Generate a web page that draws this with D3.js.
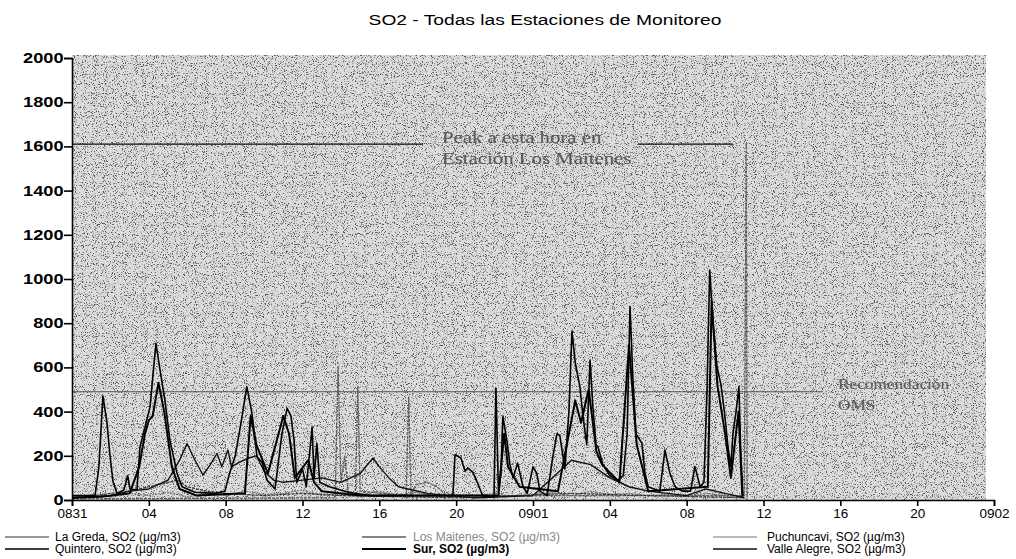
<!DOCTYPE html>
<html><head><meta charset="utf-8">
<script src="https://cdn.jsdelivr.net/npm/d3@7/dist/d3.min.js"></script>
<style>
html,body{margin:0;padding:0;background:#fff;}
svg{display:block;font-family:"Liberation Sans",Arial,sans-serif;}
</style></head>
<body>
<svg id="chart" width="1016" height="559"></svg>
<script>
// ---- data (hours since 08/31 00:00, SO2 µg/m3) ----
const xTickHours = [0,4,8,12,16,20,24,28,32,36,40,44,48];
const xTickLabels = ["0831","04","08","12","16","20","0901","04","08","12","16","20","0902"];
const yTicks = [0,200,400,600,800,1000,1200,1400,1600,1800,2000];

const quintero = [[0,20],[1.2,20],[1.4,150],[1.61,470],[1.82,350],[1.98,200],[2.13,85],[2.34,30],[2.7,45],[2.9,110],[3.02,50],[3.38,45],[3.54,240],[3.8,330],[4.06,420],[4.37,709],[4.58,590],[4.84,450],[5.1,270],[5.47,120],[5.73,60],[6.4,35],[7.44,30],[7.96,40],[8.2,120],[8.5,200],[8.8,350],[9.1,513],[9.37,392],[9.63,196],[9.9,170],[10.15,90],[10.57,50],[10.93,300],[11.2,415],[11.4,380],[11.56,271],[11.7,80],[12.0,140],[12.2,60],[12.5,330],[12.6,100],[12.75,256],[12.9,80],[13.4,60],[14.2,40],[14.7,30],[15.5,20],[19.83,20],[19.94,205],[20.25,190],[20.46,130],[20.6,145],[20.87,125],[21.1,80],[21.4,15],[21.97,15],[22.07,505],[22.2,40],[22.33,120],[22.43,377],[22.64,270],[22.8,160],[22.96,100],[23.2,167],[23.48,60],[23.7,30],[24.0,150],[24.2,120],[24.36,40],[24.73,20],[25.04,200],[25.25,300],[25.4,290],[25.66,140],[25.87,400],[26.03,765],[26.2,620],[26.44,513],[26.6,380],[26.8,250],[26.97,633],[27.12,420],[27.28,250],[27.38,241],[27.64,160],[28.0,110],[28.42,90],[28.7,110],[28.9,300],[29.05,875],[29.2,550],[29.36,300],[29.67,256],[29.83,120],[30.0,60],[30.6,40],[30.87,226],[31.13,120],[31.4,60],[31.76,40],[32.2,40],[32.43,151],[32.7,60],[32.9,80],[33.06,500],[33.2,1040],[33.37,800],[33.58,603],[33.79,520],[33.99,380],[34.15,241],[34.3,151],[34.41,300],[34.57,400],[34.72,513],[34.82,200],[34.93,20]];

const sur = [[0,10],[1.5,15],[3.0,30],[3.5,150],[3.8,300],[4.0,360],[4.2,380],[4.5,530],[4.8,400],[5.2,150],[5.6,50],[6.5,20],[9.0,30],[9.3,380],[9.6,250],[10.2,120],[11.0,380],[11.3,300],[11.6,100],[12.3,180],[12.6,80],[13.0,40],[15,20],[22.2,20],[22.5,300],[22.7,150],[23.3,60],[25.3,40],[26.2,450],[26.5,350],[26.9,500],[27.3,220],[27.6,160],[28.5,80],[29.0,700],[29.4,250],[30.0,40],[33.1,60],[33.3,900],[33.6,520],[34.0,300],[34.3,100],[34.7,400],[34.9,10]];

const valleAlegre = [[0,10],[2,20],[3,40],[4,50],[5,90],[5.6,180],[5.99,256],[6.4,180],[6.82,113],[7.2,160],[7.55,211],[7.8,150],[8.12,226],[8.3,150],[8.7,170],[9.2,190],[9.6,200],[10,130],[10.5,90],[11,80],[12,90],[13,100],[14,80],[15,120],[15.67,190],[16,150],[16.5,100],[17,60],[17.5,50],[18.5,30],[19.5,20],[21,10],[24,20],[25,100],[26,180],[27,160],[28,100],[29,60],[30,40],[31,30],[32,20],[33,50],[34,30],[35,10]];

const laGreda = [[0,5],[2,30],[3,40],[4,60],[5,80],[5.5,90],[6,60],[7,40],[8,30],[10,20],[12,30],[14,20],[20,10],[26,30],[30,20],[35,10]];

const puchuncavi = [[0,10],[1,25],[2,15],[3,30],[4,20],[5,35],[6,15],[7,30],[8,20],[9,40],[10,25],[11,30],[12,45],[13,20],[14,30],[15,25],[16,40],[17,20],[18,35],[19,15],[20,25],[21,20],[22,30],[23,15],[24,25],[25,35],[26,20],[27,40],[28,25],[29,30],[30,20],[31,25],[32,15],[33,30],[34,20],[35,10]];

const losMaitenes = [[0,5],[13.7,10],[13.85,603],[14.0,80],[14.2,200],[14.4,20],[14.75,20],[14.88,513],[15.0,40],[17.4,20],[17.53,467],[17.65,20],[17.9,70],[18.5,80],[19,60],[19.5,20],[35.0,20],[35.1,1620],[35.15,0]];

const peakValue = 1610;
const omsValue = 490;

// ---- drawing ----
const svg = d3.select("#chart");
const x = d3.scaleLinear().domain([0,48]).range([72,994]);
const y = d3.scaleLinear().domain([0,2000]).range([500,58]);

// speckled scan-like background
const defs = svg.append("defs");
const f = defs.append("filter").attr("id","noise").attr("x",0).attr("y",0).attr("width","100%").attr("height","100%");
f.append("feTurbulence").attr("type","fractalNoise").attr("baseFrequency","0.9").attr("numOctaves","2").attr("seed","7").attr("result","t");
f.append("feColorMatrix").attr("in","t").attr("type","matrix")
  .attr("values","0 0 0 0 0  0 0 0 0 0  0 0 0 0 0  7 0 0 0 -3.9");
svg.append("rect").attr("x",x(0)).attr("y",55).attr("width",x(48)-x(0)-8).attr("height",y(0)-55)
  .attr("fill","#dcdcdc");
svg.append("rect").attr("x",x(0)).attr("y",55).attr("width",x(48)-x(0)-8).attr("height",y(0)-55)
  .attr("fill","#000").attr("filter","url(#noise)").attr("opacity",0.6);

// title
svg.append("text").attr("transform","translate(545,25) scale(1.24,1)").attr("text-anchor","middle")
  .attr("font-size",15.5).attr("fill","#000").text("SO2 - Todas las Estaciones de Monitoreo");

// annotation lines
svg.append("line").attr("x1",x(0)).attr("x2",423).attr("y1",y(peakValue)).attr("y2",y(peakValue))
  .attr("stroke","#111").attr("stroke-width",1.3);
svg.append("line").attr("x1",638).attr("x2",733).attr("y1",y(peakValue)).attr("y2",y(peakValue))
  .attr("stroke","#111").attr("stroke-width",1.3);
svg.append("line").attr("x1",x(0)).attr("x2",823).attr("y1",y(omsValue)).attr("y2",y(omsValue))
  .attr("stroke","#555").attr("stroke-width",1.1);

const annFont = "'Liberation Serif','DejaVu Serif',serif";
const ann = [["Peak a esta hora en",442,143,16,1.3],["Estación Los Maitenes",442,164,16,1.3],["Recomendación",838,389,15,1.15],["OMS",838,410,15,1.15]];
svg.append("g").selectAll("text").data(ann).join("text")
  .attr("transform",d=>`translate(${d[1]},${d[2]}) scale(${d[4]},1)`)
  .attr("font-size",d=>d[3]).attr("font-family",annFont)
  .attr("fill","#555").text(d=>d[0]);

// series
const line = d3.line().x(d=>x(d[0])).y(d=>y(d[1]));
const series = [
  {name:"Puchuncavi, SO2 (µg/m3)", data:puchuncavi, color:"#777", w:1.2, dash:"2,1"},
  {name:"Los Maitenes, SO2 (µg/m3)", data:losMaitenes, color:"#5a5a5a", w:1.3, dash:"3,1"},
  {name:"La Greda, SO2 (µg/m3)", data:laGreda, color:"#333", w:1.2, dash:"3,1"},
  {name:"Valle Alegre, SO2 (µg/m3)", data:valleAlegre, color:"#111", w:1.4, dash:null},
  {name:"Sur, SO2 (µg/m3)", data:sur, color:"#000", w:2, dash:null},
  {name:"Quintero, SO2 (µg/m3)", data:quintero, color:"#000", w:1.6, dash:null}
];
svg.append("g").selectAll("path").data(series).join("path")
  .attr("d",d=>line(d.data)).attr("fill","none")
  .attr("stroke",d=>d.color).attr("stroke-width",d=>d.w)
  .attr("stroke-dasharray",d=>d.dash).attr("stroke-linejoin","round");

// axes
const yAxis = svg.append("g").attr("transform",`translate(${x(0)},0)`)
  .call(d3.axisLeft(y).tickValues(yTicks).tickSize(8).tickPadding(3).tickFormat(d3.format("d")));
const xAxis = svg.append("g").attr("transform",`translate(0,${y(0)})`)
  .call(d3.axisBottom(x).tickValues(xTickHours).tickSize(6).tickPadding(2).tickFormat((d,i)=>xTickLabels[i]));
[yAxis,xAxis].forEach(g=>{
  g.select(".domain").attr("stroke","#000").attr("stroke-width",1.6);
  g.selectAll(".tick line").attr("stroke","#000").attr("stroke-width",1.6);
  g.selectAll(".tick text").attr("fill","#000").attr("font-size",13.5)
   .attr("font-family","'Liberation Sans',Arial,sans-serif");
});
yAxis.selectAll(".tick text").attr("font-size",14).attr("font-weight","bold")
  .attr("x",-6.5).attr("transform","scale(1.3,1)");

// legend
const legendItems = [
  {s:series[2], lx:5, tx:55, ly:537},
  {s:series[5], lx:5, tx:55, ly:549},
  {s:series[1], lx:362, tx:413, ly:537},
  {s:series[4], lx:362, tx:413, ly:549},
  {s:series[0], lx:713, tx:767, ly:537},
  {s:series[3], lx:713, tx:767, ly:549}
];
const lg = svg.append("g").selectAll("g").data(legendItems).join("g");
lg.append("line").attr("x1",d=>d.lx).attr("x2",d=>d.lx+44).attr("y1",d=>d.ly).attr("y2",d=>d.ly)
  .attr("stroke",d=>d.s.color).attr("stroke-width",d=>Math.min(d.s.w,1.8));
lg.append("text").attr("x",d=>d.tx).attr("y",d=>d.ly+4).attr("font-size",12)
  .attr("fill",d=>d.s.name.startsWith("Los")?"#888":"#000")
  .attr("font-weight",d=>d.s.name.startsWith("Sur")?"bold":"normal")
  .text(d=>d.s.name);
</script>
</body></html>
